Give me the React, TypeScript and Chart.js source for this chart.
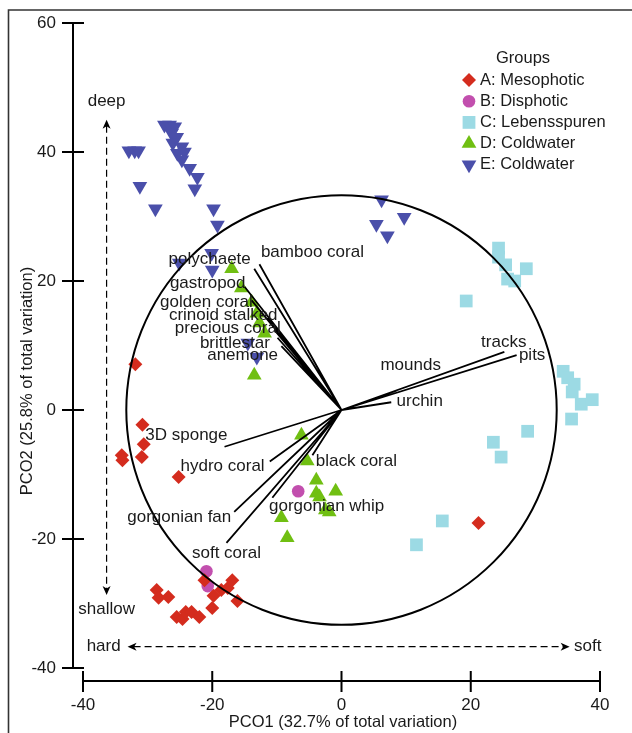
import React, { useEffect, useRef } from 'react';
import { Chart, registerables } from 'chart.js';

Chart.register(...registerables);

// ---------- data ----------
const groupNames = ['A: Mesophotic', 'B: Disphotic', 'C: Lebensspuren', 'D: Coldwater', 'E: Coldwater'];
const groupColors = ['#D42C1E', '#C24FAE', '#9CDAE4', '#70BF12', '#4A4FAA'];

const groupAX = [-31.9, -30.8, -30.6, -34.0, -33.9, -30.9, -25.2, -28.6, -28.3, -26.8, -25.5, -24.6, -24.1, -23.2, -22.0, -21.2, -19.8, -20.0, -18.6, -17.6, -16.9, -16.1, 21.2];
const groupAY = [7.1, -2.3, -5.3, -7.0, -7.8, -7.3, -10.4, -27.9, -29.1, -29.0, -32.1, -32.4, -31.3, -31.3, -32.1, -26.4, -28.8, -30.7, -27.9, -27.6, -26.4, -29.6, -17.5];

const groupBX = [-6.7, -20.9, -20.7];
const groupBY = [-12.6, -25.0, -27.3];

const groupCX = [24.3, 24.3, 25.4, 28.6, 25.7, 26.8, 19.3, 34.3, 35.0, 36.0, 35.7, 37.1, 38.8, 35.6, 28.8, 23.5, 24.7, 15.6, 11.6];
const groupCY = [25.1, 23.7, 22.5, 21.9, 20.3, 20.0, 16.9, 6.0, 5.0, 4.0, 2.8, 0.9, 1.6, -1.4, -3.3, -5.0, -7.3, -17.2, -20.9];

const groupDX = [-17.0, -15.5, -13.9, -13.1, -12.7, -11.9, -13.5, -6.2, -5.3, -3.9, -3.9, -3.4, -0.9, -1.9, -2.5, -9.3, -8.4];
const groupDY = [21.9, 18.9, 16.7, 15.0, 13.5, 11.9, 5.4, -3.9, -7.9, -10.9, -12.9, -13.5, -12.6, -15.8, -15.5, -16.7, -19.8];

const groupEX = [-32.9, -32.0, -31.4, -27.4, -26.6, -25.8, -26.3, -25.5, -26.1, -24.7, -25.4, -24.3, -24.7, -23.5, -22.3, -31.2, -22.7, -28.8, -19.8, -19.2, -25.1, -20.1, -20.0, -14.5, -13.1, 6.2, 5.4, 7.1, 9.7];
const groupEY = [40.2, 40.2, 40.2, 44.2, 44.2, 43.9, 42.9, 42.3, 41.4, 40.8, 39.8, 40.0, 38.8, 37.5, 36.1, 34.7, 34.3, 31.2, 31.2, 28.7, 22.8, 24.3, 21.7, 10.4, 8.2, 32.6, 28.8, 27.0, 29.9];

const vectorNames = ['bamboo coral', 'polychaete', 'gastropod', 'golden coral', 'crinoid stalked', 'precious coral', 'brittlestar', 'anemone', 'tracks', 'pits', 'mounds', 'urchin', '3D sponge', 'hydro coral', 'gorgonian fan', 'soft coral', 'black coral', 'gorgonian whip'];
const vectorX = [-12.7, -13.5, -15.0, -13.9, -11.4, -10.4, -9.9, -9.3, 25.2, 27.1, 8.5, 7.7, -18.1, -11.1, -16.6, -17.8, -4.5, -10.7];
const vectorY = [22.6, 21.9, 19.1, 17.0, 14.3, 12.4, 11.2, 9.9, 9.0, 8.5, 3.0, 1.2, -5.7, -8.0, -15.8, -20.6, -7.0, -13.6];
const labelX = [-4.5, -20.4, -20.7, -20.9, -18.3, -17.6, -16.5, -15.3, 25.1, 29.5, 10.7, 12.1, -24.0, -18.4, -25.1, -17.8, 2.3, -2.3];
const labelY = [24.5, 23.4, 19.7, 16.7, 14.7, 12.6, 10.4, 8.5, 10.5, 8.5, 7.0, 1.4, -3.9, -8.7, -16.6, -22.2, -7.9, -15.0];

const circleRadius = 33.3;

const xTicks = [-40, -20, 0, 20, 40];
const yTicks = [-40, -20, 0, 20, 40, 60];
const xTitle = 'PCO1 (32.7% of total variation)';
const yTitle = 'PCO2 (25.8% of total variation)';

const depthArrowX = -36.35;
const depthArrowTop = 45.0;
const depthArrowBottom = -28.7;
const depthLabels = ['deep', 'shallow'];
const depthLabelY = [47.8, -30.9];
const hardnessArrowY = -36.7;
const hardnessArrowLeft = -33.1;
const hardnessArrowRight = 35.3;
const hardnessLabels = ['hard', 'soft'];
const hardnessLabelX = [-36.8, 38.1];

const FONT = '"Liberation Sans", Arial, Helvetica, sans-serif';

function zip(xs: number[], ys: number[]) {
  return xs.map((x, i) => ({ x, y: ys[i] }));
}

function drawMarker(ctx: CanvasRenderingContext2D, kind: number, x: number, y: number, color: string) {
  ctx.save();
  ctx.fillStyle = color;
  ctx.beginPath();
  if (kind === 0) {
    const r = 7;
    ctx.moveTo(x - r, y); ctx.lineTo(x, y - r); ctx.lineTo(x + r, y); ctx.lineTo(x, y + r);
  } else if (kind === 1) {
    ctx.arc(x, y, 6.3, 0, Math.PI * 2);
  } else if (kind === 2) {
    const s = 6.4;
    ctx.rect(x - s, y - s, 2 * s, 2 * s);
  } else if (kind === 3) {
    const r = 8.5;
    ctx.moveTo(x, y - r);
    ctx.lineTo(x + r * Math.sin(2 * Math.PI / 3), y - r * Math.cos(2 * Math.PI / 3));
    ctx.lineTo(x + r * Math.sin(4 * Math.PI / 3), y - r * Math.cos(4 * Math.PI / 3));
  } else {
    const r = 8.5;
    ctx.moveTo(x, y + r);
    ctx.lineTo(x + r * Math.sin(2 * Math.PI / 3), y + r * Math.cos(2 * Math.PI / 3));
    ctx.lineTo(x + r * Math.sin(4 * Math.PI / 3), y + r * Math.cos(4 * Math.PI / 3));
  }
  ctx.closePath();
  ctx.fill();
  ctx.restore();
}

function arrowHead(ctx: CanvasRenderingContext2D, x: number, y: number, angle: number) {
  ctx.save();
  ctx.translate(x, y);
  ctx.rotate(angle);
  ctx.beginPath();
  ctx.moveTo(0, 0);
  ctx.lineTo(-9, -4);
  ctx.lineTo(-6.5, 0);
  ctx.lineTo(-9, 4);
  ctx.closePath();
  ctx.fill();
  ctx.restore();
}

const overlayPlugin = {
  id: 'overlay',
  afterDatasetsDraw(chart: any) {
    const ctx: CanvasRenderingContext2D = chart.ctx;
    const xs = chart.scales.x;
    const ys = chart.scales.y;
    const px = (v: number) => xs.getPixelForValue(v);
    const py = (v: number) => ys.getPixelForValue(v);
    const ink = '#1a1a1a';
    ctx.save();

    // frame
    ctx.strokeStyle = '#333';
    ctx.lineWidth = 1.6;
    ctx.beginPath();
    ctx.moveTo(8.5, 733);
    ctx.lineTo(8.5, 10);
    ctx.lineTo(632, 10);
    ctx.stroke();

    // circle
    ctx.strokeStyle = '#000';
    ctx.lineWidth = 2;
    ctx.beginPath();
    ctx.ellipse(px(0), py(0), px(circleRadius) - px(0), py(0) - py(circleRadius), 0, 0, Math.PI * 2);
    ctx.stroke();

    // vectors
    ctx.lineWidth = 1.8;
    ctx.beginPath();
    vectorX.forEach((vx, i) => {
      ctx.moveTo(px(0), py(0));
      ctx.lineTo(px(vx), py(vectorY[i]));
    });
    ctx.stroke();

    // vector labels
    ctx.fillStyle = ink;
    ctx.font = `17px ${FONT}`;
    ctx.textAlign = 'center';
    ctx.textBaseline = 'middle';
    vectorNames.forEach((n, i) => ctx.fillText(n, px(labelX[i]), py(labelY[i])));

    // dashed arrows
    ctx.strokeStyle = '#000';
    ctx.fillStyle = '#000';
    ctx.lineWidth = 1.2;
    ctx.setLineDash([7, 4]);
    ctx.beginPath();
    ctx.moveTo(px(depthArrowX), py(depthArrowTop) + 6);
    ctx.lineTo(px(depthArrowX), py(depthArrowBottom) - 6);
    ctx.moveTo(px(hardnessArrowLeft) + 6, py(hardnessArrowY));
    ctx.lineTo(px(hardnessArrowRight) - 6, py(hardnessArrowY));
    ctx.stroke();
    ctx.setLineDash([]);
    arrowHead(ctx, px(depthArrowX), py(depthArrowTop), -Math.PI / 2);
    arrowHead(ctx, px(depthArrowX), py(depthArrowBottom), Math.PI / 2);
    arrowHead(ctx, px(hardnessArrowLeft), py(hardnessArrowY), Math.PI);
    arrowHead(ctx, px(hardnessArrowRight), py(hardnessArrowY), 0);
    ctx.fillStyle = ink;
    ctx.font = `17px ${FONT}`;
    ctx.textAlign = 'center';
    depthLabels.forEach((t, i) => ctx.fillText(t, px(depthArrowX), py(depthLabelY[i])));
    hardnessLabels.forEach((t, i) => ctx.fillText(t, px(hardnessLabelX[i]), py(hardnessArrowY)));

    // axes
    const yAxisX = 73;
    const xAxisY = 681;
    ctx.strokeStyle = '#000';
    ctx.lineWidth = 2;
    ctx.beginPath();
    ctx.moveTo(yAxisX, py(yTicks[yTicks.length - 1]));
    ctx.lineTo(yAxisX, py(yTicks[0]));
    yTicks.forEach((t) => {
      ctx.moveTo(yAxisX - 11, py(t));
      ctx.lineTo(yAxisX + 11, py(t));
    });
    ctx.moveTo(px(xTicks[0]), xAxisY);
    ctx.lineTo(px(xTicks[xTicks.length - 1]), xAxisY);
    xTicks.forEach((t) => {
      ctx.moveTo(px(t), xAxisY - 10);
      ctx.lineTo(px(t), xAxisY + 11);
    });
    ctx.stroke();

    ctx.fillStyle = ink;
    ctx.font = `17px ${FONT}`;
    ctx.textAlign = 'right';
    ctx.textBaseline = 'middle';
    yTicks.forEach((t) => ctx.fillText(String(t), 56, py(t)));
    ctx.textAlign = 'center';
    xTicks.forEach((t) => ctx.fillText(String(t), px(t), 705));

    ctx.font = `16.5px ${FONT}`;
    ctx.fillText(xTitle, 343, 722);
    ctx.save();
    ctx.translate(27, 381);
    ctx.rotate(-Math.PI / 2);
    ctx.fillText(yTitle, 0, 0);
    ctx.restore();

    // legend
    ctx.font = `16.5px ${FONT}`;
    ctx.textAlign = 'center';
    ctx.fillText('Groups', 523, 58);
    ctx.textAlign = 'left';
    groupNames.forEach((name, i) => {
      const y = 80 + i * 21.2;
      drawMarker(ctx, i, 469, y, groupColors[i]);
      ctx.fillStyle = ink;
      ctx.fillText(name, 480, y);
    });

    ctx.restore();
  },
};

export default function App() {
  const canvasRef = useRef<HTMLCanvasElement | null>(null);

  useEffect(() => {
    if (!canvasRef.current) return;
    const common = { pointBorderWidth: 0, borderWidth: 0, clip: false as any };
    const chart = new Chart(canvasRef.current, {
      type: 'scatter',
      data: {
        datasets: [
          { label: groupNames[0], data: zip(groupAX, groupAY), pointStyle: 'rectRot', pointRadius: 7, backgroundColor: groupColors[0], ...common },
          { label: groupNames[1], data: zip(groupBX, groupBY), pointStyle: 'circle', pointRadius: 6.3, backgroundColor: groupColors[1], ...common },
          { label: groupNames[2], data: zip(groupCX, groupCY), pointStyle: 'rect', pointRadius: 9, backgroundColor: groupColors[2], ...common },
          { label: groupNames[3], data: zip(groupDX, groupDY), pointStyle: 'triangle', pointRadius: 8.5, backgroundColor: groupColors[3], ...common },
          { label: groupNames[4], data: zip(groupEX, groupEY), pointStyle: 'triangle', pointRotation: 180, pointRadius: 8.5, backgroundColor: groupColors[4], ...common },
        ] as any,
      },
      options: {
        animation: false,
        responsive: false,
        devicePixelRatio: 1,
        events: [],
        layout: { padding: { left: 83, right: 32, top: 23, bottom: 65 } },
        scales: {
          x: { type: 'linear', min: -40, max: 40, display: false },
          y: { type: 'linear', min: -40, max: 60, display: false },
        },
        plugins: { legend: { display: false }, tooltip: { enabled: false } },
      },
      plugins: [overlayPlugin],
    });
    return () => chart.destroy();
  }, []);

  return (
    <div style={{ position: 'absolute', left: 0, top: 0, width: 632, height: 733, background: '#fff' }}>
      <canvas ref={canvasRef} width={632} height={733} style={{ display: 'block', width: 632, height: 733 }} />
    </div>
  );
}
